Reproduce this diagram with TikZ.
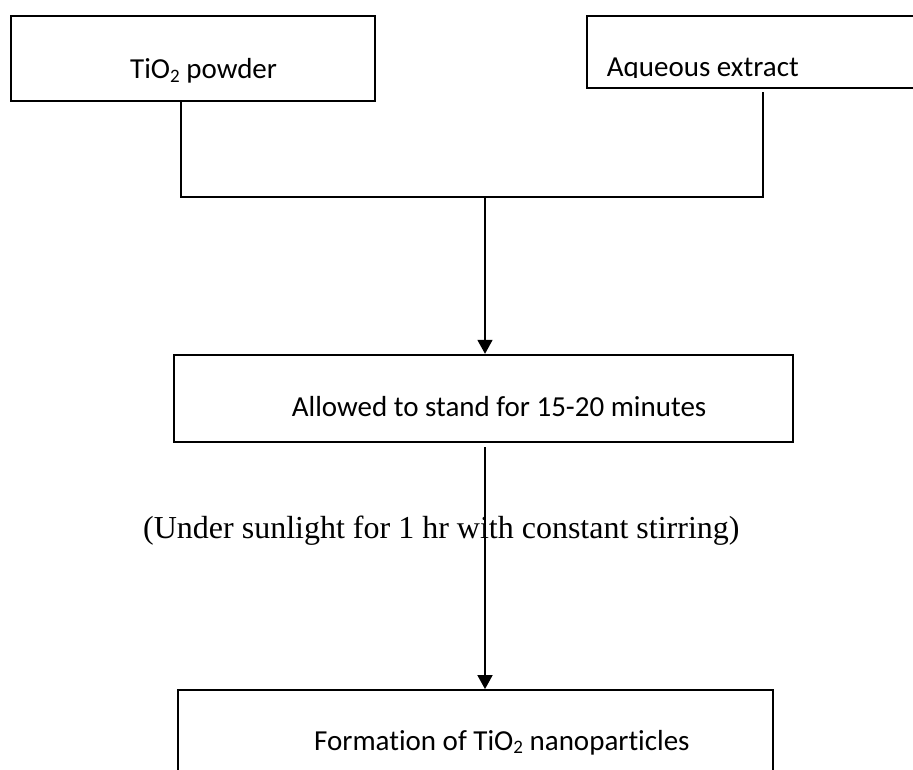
\documentclass[tikz,border=0pt]{standalone}
\usepackage{fontspec}
\setmainfont{Carlito}[Ligatures=NoCommon]
\newfontfamily\timesfont{Liberation Serif}
\usetikzlibrary{arrows.meta}
\newcommand{\chemsub}[1]{\raisebox{-0.12em}{\fontsize{19}{19}\selectfont #1}}
\tikzset{
  box/.style={draw, line width=1.8pt, inner sep=0pt, minimum width=#1},
  label/.style={anchor=base west, inner sep=0pt, font=\fontsize{29}{34}\selectfont},
  note/.style={anchor=base west, inner sep=0pt, font=\timesfont\fontsize{32}{38}\selectfont},
  wire/.style={line width=1.8pt},
  flow/.style={line width=1.8pt, -{Triangle[length=14pt,width=15pt]}}
}
\begin{document}
\begin{tikzpicture}[x=1pt, y=-1pt]
  \clip (0,0) rectangle (913,770);
  \fill[white] (0,0) rectangle (913,770);

  % process boxes
  \node[box=364.3pt, minimum height=85pt] (powder) at (192.8,58.5) {};
  \node[box=413.3pt, minimum height=72.3pt] (extract) at (793.3,52.2) {};
  \node[box=618.7pt, minimum height=87.6pt] (stand) at (483.3,398.5) {};
  \node[box=594.7pt, minimum height=110pt] (product) at (475.3,745) {};

  % box texts
  \node[label] (tpowder) at (130,79) {TiO\chemsub{2} powder};
  \begin{scope}
    \clip (590,20) rectangle (900,77.5);
    \node[label] (textract) at (606.7,76.7) {Aqueous extract};
  \end{scope}
  \node[label] (tstand) at (291.7,416) {Allowed to stand for 15-20 minutes};
  \node[label] (tproduct) at (314,750) {Formation of TiO\chemsub{2} nanoparticles};

  % joining lines
  \coordinate (jl) at (181,197);
  \coordinate (jr) at (762.7,197);
  \coordinate (jm) at (485,197);
  \coordinate (rtop) at (762.7,91.7);
  \coordinate (mtop) at (485,447.3);
  \draw[wire] (powder.south -| jl) -- (jl) -- (jr) -- (rtop);

  % flow arrows
  \draw[flow] (jm) -- (jm |- stand.north);
  \draw[flow] (mtop) -- (mtop |- product.north);

  % condition note
  \node[note] (cond) at (143,538) {(Under sunlight for 1 hr with constant stirring)};
\end{tikzpicture}
\end{document}
